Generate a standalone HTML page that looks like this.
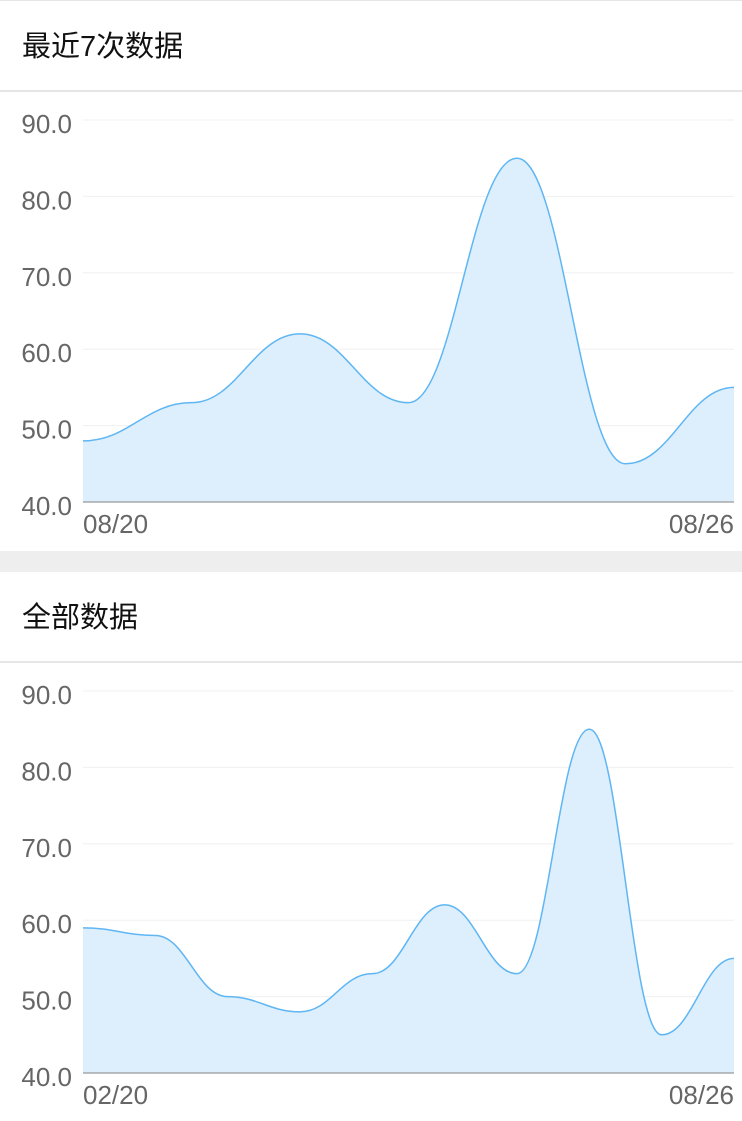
<!DOCTYPE html>
<html><head><meta charset="utf-8"><style>
html,body{margin:0;padding:0;width:742px;height:1121px;overflow:hidden;background:#fff;font-family:"Liberation Sans","Noto Sans CJK SC",sans-serif;}
.title{position:absolute;left:22px;font-size:29px;color:#111;line-height:32px;}
.sep{position:absolute;left:0;width:742px;height:2px;background:#e6e6e6;}
.band{position:absolute;left:0;top:551px;width:742px;height:21px;background:#eeeeee;}
svg{position:absolute;left:0;}
</style></head><body>
<div class="sep" style="top:0;height:1px"></div>
<div class="title" style="top:31px">最近7次数据</div>
<div class="sep" style="top:90px"></div>
<svg id="c1" width="742" height="460" style="top:92px"></svg>
<div class="band"></div>
<div class="title" style="top:602px">全部数据</div>
<div class="sep" style="top:661px"></div>
<svg id="c2" width="742" height="458" style="top:663px"></svg>
<script>
const recentValues=[48,53,62,53,85,45,55];
const recentLabels=["08/20","08/26"];
const allValues=[59,58,50,48,53,62,53,85,45,55];
const allLabels=["02/20","08/26"];
const yTicks=[40,50,60,70,80,90];
const NS="http://www.w3.org/2000/svg";
function mk(t,a){const e=document.createElementNS(NS,t);for(const k in a)e.setAttribute(k,a[k]);return e;}
function smooth(pts){
  let p="M"+pts[0][0]+","+pts[0][1];
  for(let i=0;i<pts.length-1;i++){const h=(pts[i+1][0]-pts[i][0])*0.42;
    p+=" C"+(pts[i][0]+h)+","+pts[i][1]+" "+(pts[i+1][0]-h)+","+pts[i+1][1]+" "+pts[i+1][0]+","+pts[i+1][1];}
  return p;
}
function draw(svg,vals,labels,top,bot){
  const x0=83,x1=734;
  const y=v=>bot-(v-40)/(90-40)*(bot-top);
  const x=i=>x0+i*(x1-x0)/(vals.length-1);
  yTicks.forEach(t=>{
    if(t>40){const g=mk("line",{x1:x0,x2:x1,y1:y(t),y2:y(t),stroke:"#f0f0f0","stroke-width":1});
    
    svg.appendChild(g);}
    const tx=mk("text",{x:72,y:y(t)+13,"text-anchor":"end","font-size":26,fill:"#666"});
    tx.textContent=t.toFixed(1);
    
    svg.appendChild(tx);
  });
  const pts=vals.map((v,i)=>[x(i),y(v)]);
  const line=smooth(pts);
  const area=mk("path",{d:line+" L"+x1+","+bot+" L"+x0+","+bot+" Z",fill:"#ddeffd"});
  
  svg.appendChild(area);
  const l=mk("path",{d:line,fill:"none",stroke:"#5fb6f3","stroke-width":1.5});
  
  svg.appendChild(l);
  const ax=mk("line",{x1:x0,x2:x1,y1:bot,y2:bot,stroke:"#999","stroke-width":1.2});
  
  svg.appendChild(ax);
  [[labels[0],x0,"start"],[labels[1],x1,"end"]].forEach(a=>{
    const t=mk("text",{x:a[1],y:bot+31,"text-anchor":a[2],"font-size":26,fill:"#666"});
    t.textContent=a[0];
    
    svg.appendChild(t);
  });
}
draw(document.getElementById("c1"),recentValues,recentLabels,120-92,502-92);
draw(document.getElementById("c2"),allValues,allLabels,691-663,1073-663);
</script>
</body></html>
